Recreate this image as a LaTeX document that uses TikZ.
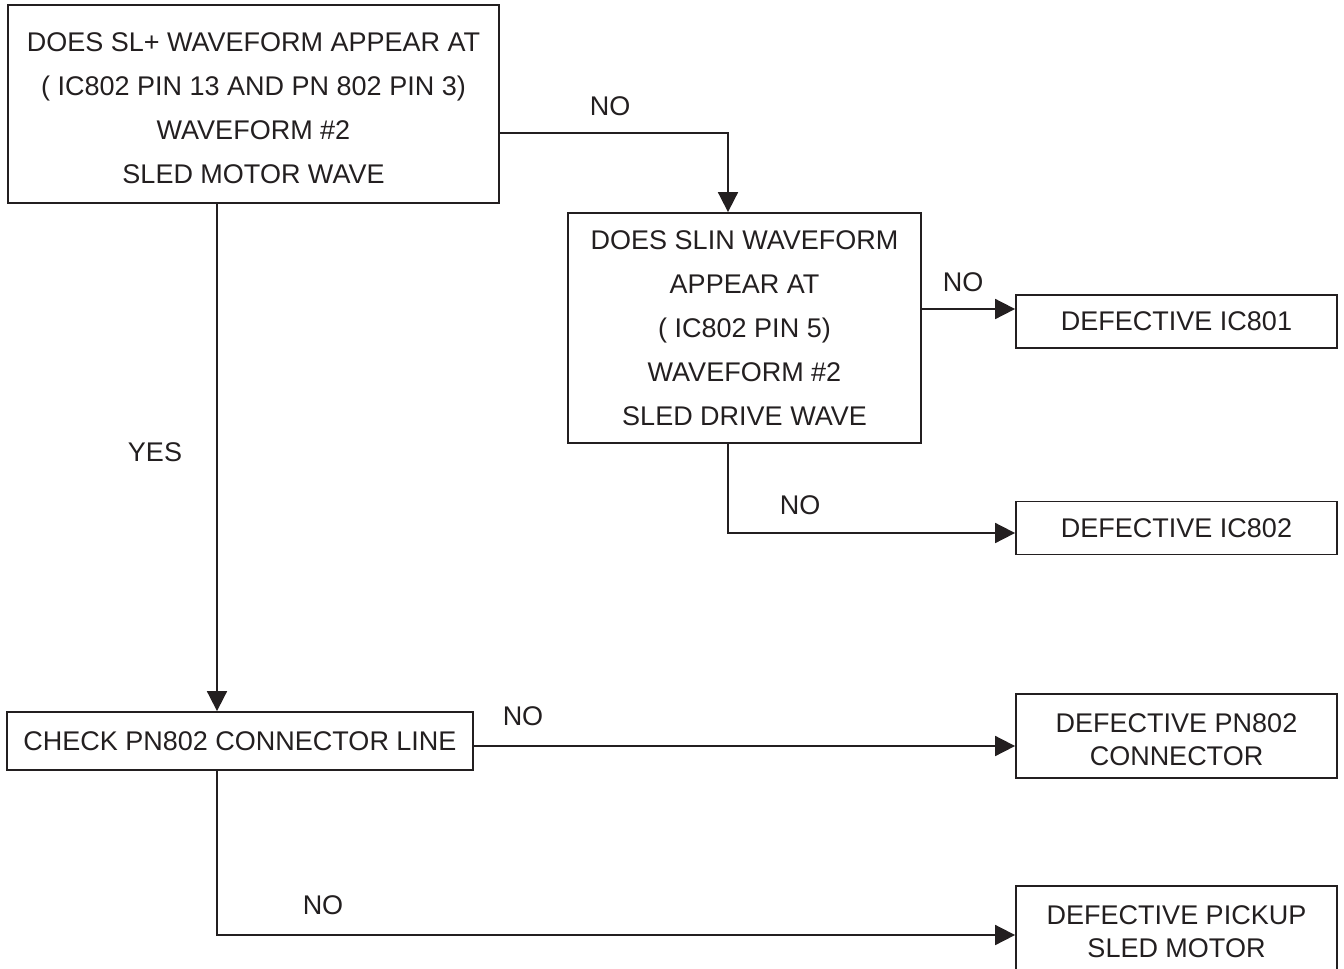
\documentclass[tikz,border=0pt]{standalone}
\usepackage{fontspec}
\setmainfont{Liberation Sans}
\usetikzlibrary{arrows.meta}
\definecolor{ink}{HTML}{231F20}

\begin{document}
\begin{tikzpicture}[x=0.5pt, y=-0.5pt,
    box/.style={draw=ink, line width=0.9pt, align=center, text=ink, inner sep=0pt,
                font=\fontsize{13.5}{22}\selectfont},
    endbox/.style={box, minimum width=160.5pt, font=\fontsize{13.5}{16.5}\selectfont},
    arr/.style={draw=ink, line width=0.9pt, -{Triangle[length=10pt,width=10pt]}},
    lbl/.style={text=ink, font=\fontsize{13.5}{17}\selectfont}]
                \useasboundingbox (0,0) rectangle (1344,969);

                % Questions
                \node[box, minimum width=245.5pt, minimum height=99pt] (sl) at (253.5,104)
                    {\rule{0pt}{14pt}DOES SL+ WAVEFORM APPEAR AT\\( IC802 PIN 13 AND PN 802 PIN 3)\\WAVEFORM \#2\\SLED MOTOR WAVE};
                \node[box, minimum width=176.5pt, minimum height=115pt] (slin) at (744.5,328)
                    {DOES SLIN WAVEFORM\\APPEAR AT\\( IC802 PIN 5)\\WAVEFORM \#2\\SLED DRIVE WAVE};
                \node[box, minimum width=233pt, minimum height=29pt] (chk) at (240,741)
                    {CHECK PN802 CONNECTOR LINE};

                % Results
                \node[endbox, minimum height=26.5pt] (ic801) at (1176.5,321.5) {DEFECTIVE IC801};
                \node[endbox, minimum height=26.5pt] (ic802) at (1176.5,528) {DEFECTIVE IC802};
                \node[endbox, minimum height=42pt] (conn) at (1176.5,736) {\rule{0pt}{13.5pt}DEFECTIVE PN802\\CONNECTOR};
                \node[endbox, minimum height=42pt] (motor) at (1176.5,928) {\rule{0pt}{13.5pt}DEFECTIVE PICKUP\\SLED MOTOR};

                % Branch points
                \coordinate (a) at ([yshift=-14.5pt]sl.east);
                \coordinate (b) at ([yshift=9.5pt]slin.east);
                \coordinate (c) at ([xshift=-8.25pt]slin.south);
                \coordinate (d) at ([xshift=-18.25pt]sl.south);
                \coordinate (e) at ([yshift=-2.5pt]chk.east);
                \coordinate (f) at (d |- chk.south);

                % Connectors
                \draw[arr] (a) -| ([xshift=-8.25pt]slin.north);
                \draw[arr] (b) -- (b -| ic801.west);
                \draw[arr] (c) |- ([yshift=-2.5pt]ic802.west);
                \draw[arr] (d) -- (d |- chk.north);
                \draw[arr] (e) -- (e -| conn.west);
                \draw[arr] (f) |- ([yshift=-3.5pt]motor.west);

                % Labels
                \node[lbl] (no1) at (610,106) {NO};
                \node[lbl] (no2) at (963,282) {NO};
                \node[lbl] (no3) at (800,505) {NO};
                \node[lbl] (yes) at (155,452) {YES};
                \node[lbl] (no4) at (523,716) {NO};
                \node[lbl] (no5) at (323,905) {NO};
\end{tikzpicture}
\end{document}
